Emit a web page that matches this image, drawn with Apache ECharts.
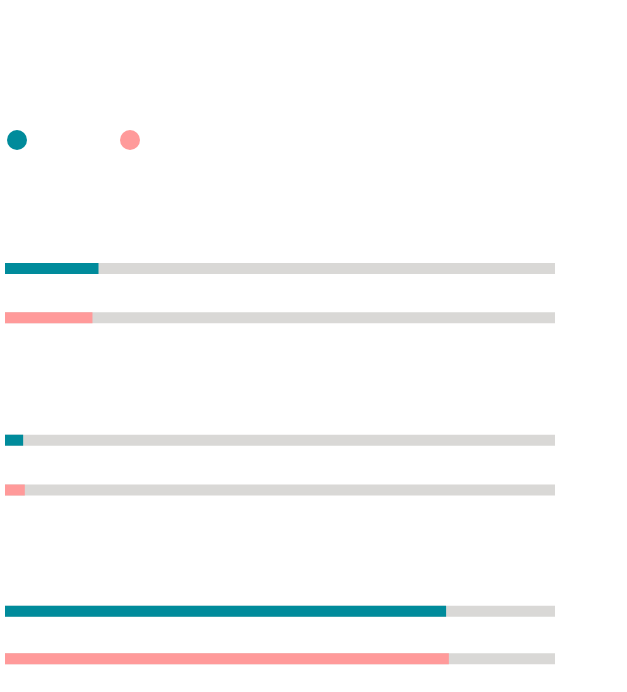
<!DOCTYPE html>
<html>
<head>
<meta charset="utf-8">
<script src="https://cdn.jsdelivr.net/npm/echarts@6/dist/echarts.min.js"></script>
<style>
    html, body { margin: 0; padding: 0; background: #fff; }
    #chart { width: 627px; height: 692px; }
</style>
</head>
<body>
<div id="chart"></div>
<script>
// 三组对比条，每组两条（百分比）
var seriesNames = ['A', 'B'];
var tealValues = [17.0, 3.3, 80.2];
var pinkValues = [15.9, 3.6, 80.7];
var fullValues = [100, 100];
var rowCats = ['a', 'b'];

var colors = {
    teal: '#008b9b',
    pink: '#ff9a9a',
    track: '#d9d8d6'
};

// 每组的位置
var gridTops = [243.8, 415.3, 587.4];
var gridHeights = [98.6, 99.6, 95];

var grids = [], xAxes = [], yAxes = [], series = [];
for (var i = 0; i < 3; i++) {
    grids.push({ left: 5, right: 72, top: gridTops[i], height: gridHeights[i] });
    xAxes.push({ gridIndex: i, type: 'value', min: 0, max: 100, show: false });
    yAxes.push({ gridIndex: i, type: 'category', data: rowCats, inverse: true, show: false });
    // 灰色底条
    series.push({
        type: 'bar', xAxisIndex: i, yAxisIndex: i,
        data: fullValues, barWidth: 11, barGap: '-100%',
        itemStyle: { color: colors.track }, silent: true
    });
    series.push({
        name: seriesNames[0], type: 'bar', xAxisIndex: i, yAxisIndex: i,
        data: [tealValues[i], '-'], barWidth: 11, barGap: '-100%',
        itemStyle: { color: colors.teal }
    });
    series.push({
        name: seriesNames[1], type: 'bar', xAxisIndex: i, yAxisIndex: i,
        data: ['-', pinkValues[i]], barWidth: 11, barGap: '-100%',
        itemStyle: { color: colors.pink }
    });
}

var myChart = echarts.init(document.getElementById('chart'));
var option = {
    animation: false,
    color: [colors.teal, colors.pink],
    legend: [
        {
            data: [seriesNames[0]], left: 7, top: 130, padding: 0,
            icon: 'circle', itemWidth: 20, itemHeight: 20,
            formatter: function () { return ''; }
        },
        {
            data: [seriesNames[1]], left: 120, top: 130, padding: 0,
            icon: 'circle', itemWidth: 20, itemHeight: 20,
            formatter: function () { return ''; }
        }
    ],
    grid: grids,
    xAxis: xAxes,
    yAxis: yAxes,
    series: series
};
myChart.setOption(option);
</script>
</body>
</html>
